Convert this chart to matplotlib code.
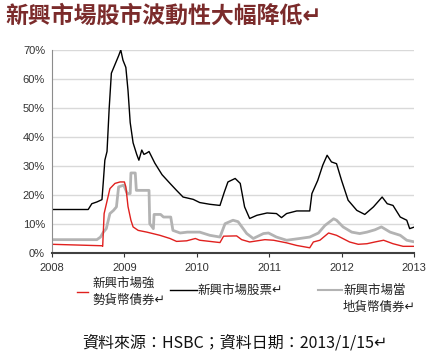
import numpy as np
import matplotlib
matplotlib.use('Agg')
import matplotlib.pyplot as plt
from matplotlib.lines import Line2D
from matplotlib.ticker import PercentFormatter

plt.rcParams['font.family'] = ['Liberation Sans', 'Noto Sans CJK TC', 'DejaVu Sans']

# data (decimal year, volatility %)
eq_yr = [2008.0, 2008.50, 2008.55, 2008.62, 2008.69, 2008.71, 2008.73, 2008.76, 2008.79, 2008.82,
         2008.87, 2008.92, 2008.95, 2008.98, 2009.02, 2009.05, 2009.08, 2009.12, 2009.17, 2009.20,
         2009.24, 2009.27, 2009.31, 2009.34, 2009.42, 2009.52, 2009.63, 2009.72, 2009.81, 2009.95,
         2010.04, 2010.18, 2010.32, 2010.38, 2010.43, 2010.53, 2010.60, 2010.66, 2010.73, 2010.83,
         2010.97, 2011.10, 2011.17, 2011.24, 2011.38, 2011.56, 2011.59, 2011.67, 2011.74, 2011.80,
         2011.86, 2011.93, 2012.00, 2012.09, 2012.21, 2012.32, 2012.44, 2012.56, 2012.63, 2012.71,
         2012.81, 2012.90, 2012.94, 2013.01]
eq_vol = [15.0, 15.0, 17.0, 17.6, 18.4, 25.0, 32.0, 35.0, 50.0, 62.0,
          65.0, 68.0, 70.0, 66.5, 64.0, 56.0, 45.0, 38.0, 34.0, 32.0,
          35.5, 34.0, 34.5, 35.0, 31.0, 27.0, 24.0, 21.6, 19.3, 18.5,
          17.4, 16.8, 16.4, 21.0, 24.5, 25.7, 24.0, 15.9, 11.9, 13.0,
          13.8, 13.6, 12.2, 13.6, 14.5, 14.5, 20.5, 25.0, 30.3, 33.7,
          31.4, 30.8, 25.0, 18.2, 14.7, 13.3, 15.9, 19.3, 17.0, 16.4,
          12.4, 11.3, 8.4, 9.0]

hc_yr = [2008.0, 2008.69, 2008.70, 2008.72, 2008.80, 2008.87, 2008.94, 2009.00, 2009.02, 2009.05,
         2009.09, 2009.12, 2009.19, 2009.31, 2009.49, 2009.63, 2009.72, 2009.86, 2009.98, 2010.04,
         2010.32, 2010.37, 2010.55, 2010.62, 2010.73, 2010.94, 2011.06, 2011.24, 2011.38, 2011.56,
         2011.61, 2011.70, 2011.82, 2011.93, 2012.11, 2012.23, 2012.35, 2012.46, 2012.58, 2012.71,
         2012.85, 2013.01]
hc_vol = [3.0, 2.5, 2.3, 13.6, 22.2, 24.0, 24.5, 24.5, 22.8, 16.0,
          11.3, 9.0, 7.8, 7.2, 6.1, 5.0, 4.0, 4.2, 5.0, 4.4,
          3.6, 5.8, 5.9, 4.6, 3.8, 4.6, 4.4, 3.5, 2.6, 1.8,
          3.8, 4.4, 6.9, 6.1, 3.8, 3.0, 3.2, 3.8, 4.4, 3.2,
          2.3, 2.3]

lc_yr = [2008.0, 2008.62, 2008.67, 2008.71, 2008.75, 2008.80, 2008.85, 2008.89, 2008.92, 2008.99,
         2009.04, 2009.08, 2009.09, 2009.15, 2009.165, 2009.34, 2009.35, 2009.40, 2009.41, 2009.50,
         2009.54, 2009.64, 2009.67, 2009.77, 2009.87, 2010.04, 2010.18, 2010.32, 2010.39, 2010.50,
         2010.57, 2010.69, 2010.78, 2010.92, 2010.99, 2011.10, 2011.24, 2011.42, 2011.56, 2011.68,
         2011.77, 2011.89, 2011.93, 2012.02, 2012.14, 2012.25, 2012.35, 2012.46, 2012.55, 2012.67,
         2012.81, 2012.90, 2013.01]
lc_vol = [4.6, 4.6, 5.5, 7.2, 8.4, 13.6, 14.7, 15.9, 22.8, 23.4,
          20.5, 20.5, 27.6, 27.6, 21.6, 21.6, 10.1, 8.4, 13.3, 13.3,
          12.4, 12.4, 7.8, 6.9, 7.2, 7.2, 6.1, 5.5, 10.1, 11.3,
          10.8, 6.7, 5.0, 6.7, 6.9, 5.5, 4.4, 5.0, 5.5, 6.9,
          9.5, 11.8, 11.3, 9.0, 7.2, 6.7, 7.2, 8.0, 9.0, 7.2,
          6.1, 4.4, 3.8]

years = [2008, 2009, 2010, 2011, 2012, 2013]
W, H = 428, 351

fig = plt.figure(figsize=(W / 100, H / 100), dpi=100)
ax = fig.add_axes([52 / W, 1 - 253 / H, 362 / W, 203 / H])

ax.plot(lc_yr, lc_vol, color='#b3b3b3', lw=2.0)
ax.plot(hc_yr, hc_vol, color='#e0201e', lw=1.0)
ax.plot(eq_yr, eq_vol, color='black', lw=1.0)

ax.set_xlim(2008, 2013)
ax.set_ylim(0, 70)
ax.set_yticks(range(0, 71, 10))
ax.yaxis.set_major_formatter(PercentFormatter(decimals=0))
ax.set_xticks(years)
ax.set_xticklabels([str(y) for y in years])
ax.grid(axis='y', color='#d9d9d9', lw=1.0)
ax.set_axisbelow(True)
for s in ['top', 'right']:
    ax.spines[s].set_visible(False)
ax.spines['left'].set_color('#8c8c8c')
ax.spines['bottom'].set_color('#404040')
ax.spines['bottom'].set_linewidth(1.5)
ax.tick_params(axis='y', length=0, labelsize=8, colors='#333333', pad=5)
ax.tick_params(axis='x', length=3, labelsize=8, colors='#333333', pad=4)


def px(x, y):
    return x / W, 1 - y / H


cjk = ['Noto Sans CJK TC', 'DejaVu Sans']
fig.text(*px(5, 16), '新興市場股市波動性大幅降低↵', family=cjk, fontsize=16.5,
         color='#7b2b2b', fontweight='bold', va='center', ha='left')

# legend
fig.add_artist(Line2D([77 / W, 88 / W], [1 - 292 / H] * 2, transform=fig.transFigure,
                      color='#e0201e', lw=1.0))
fig.text(*px(92, 283), '新興市場強', family=cjk, fontsize=9, va='center', color='#222222')
fig.text(*px(92, 300), '勢貨幣債券↵', family=cjk, fontsize=9, va='center', color='#222222')
fig.add_artist(Line2D([170 / W, 197 / W], [1 - 290 / H] * 2, transform=fig.transFigure,
                      color='black', lw=1.0))
fig.text(*px(197, 290), '新興市場股票↵', family=cjk, fontsize=9, va='center', color='#222222')
fig.add_artist(Line2D([318 / W, 342 / W], [1 - 290 / H] * 2, transform=fig.transFigure,
                      color='#b3b3b3', lw=1.5))
fig.text(*px(343, 290), '新興市場當', family=cjk, fontsize=9, va='center', color='#222222')
fig.text(*px(343, 307), '地貨幣債券↵', family=cjk, fontsize=9, va='center', color='#222222')

fig.text(*px(235, 343), '資料來源：HSBC；資料日期：2013/1/15↵', family=cjk, fontsize=11.5,
         ha='center', va='center', color='#111111')

fig.savefig('out.png', dpi=100)
